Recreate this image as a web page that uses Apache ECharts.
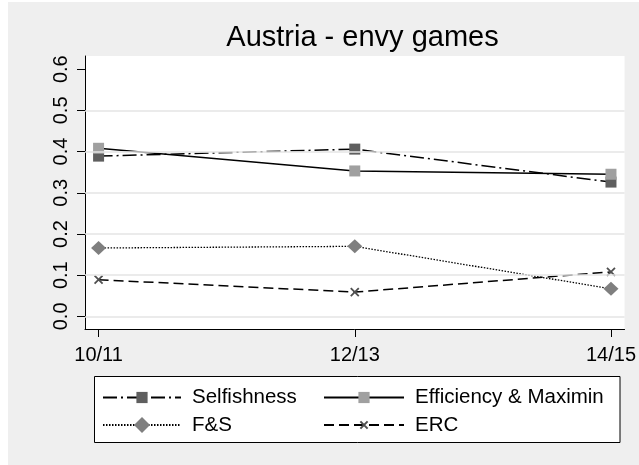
<!DOCTYPE html>
<html>
<head>
<meta charset="utf-8">
<script src="https://cdn.jsdelivr.net/npm/echarts@6/dist/echarts.min.js"></script>
<style>html,body{margin:0;padding:0;background:#fff}#c{width:639px;height:465px}</style>
</head>
<body>
<div id="c"></div>
<script>
const categories = ['10/11', '12/13', '14/15'];
const selfishness = [0.389, 0.406, 0.326];
const efficiency = [0.408, 0.353, 0.345];
const fs = [0.166, 0.170, 0.067];
const erc = [0.089, 0.059, 0.108];
const yTicks = [0, 0.1, 0.2, 0.3, 0.4, 0.5, 0.6];
const gridValues = [0, 0.1, 0.2, 0.3, 0.4, 0.5];
const xTicks = [0, 1, 2];

const FONT = 'Liberation Sans';
const toPts = arr => arr.map((v, i) => [i, v]);
const chart = echarts.init(document.getElementById('c'), null, {renderer: 'canvas'});

const lineSeries = (name, data, dash, width, symbol, size, color, extra) => Object.assign({
  name: name, type: 'line', data: toPts(data), z: 3,
  symbol: symbol, symbolSize: size, showSymbol: true,
  lineStyle: {color: '#000', width: width, type: dash},
  itemStyle: {color: color, borderWidth: 0},
  emphasis: {disabled: true}, animation: false
}, extra || {});

const legendItem = (name, left, top, itemWidth, itemHeight) => ({
  data: [name], orient: 'vertical', left: left, top: top, padding: 0,
  itemWidth: itemWidth, itemHeight: itemHeight,
  textStyle: {fontFamily: FONT, fontSize: 20.5, color: '#000', padding: [0, 0, 0, 6], lineHeight: 21},
  selectedMode: false
});

chart.setOption({
  backgroundColor: '#efefef',
  animation: false,
  graphic: [
    {type: 'rect', shape: {x: 0, y: 0, width: 8, height: 465}, style: {fill: '#fff'}, z: 0},
    {type: 'rect', shape: {x: 0, y: 0, width: 639, height: 2}, style: {fill: '#fff'}, z: 0},
    {type: 'rect', shape: {x: 94.5, y: 376.5, width: 525.5, height: 66}, style: {fill: '#fff', stroke: '#000', lineWidth: 1}, z: 1}
  ],
  title: {
    text: 'Austria - envy games', left: 357.5, top: 18, textAlign: 'center',
    textStyle: {fontFamily: FONT, fontSize: 29, fontWeight: 'normal', color: '#000'}
  },
  grid: {left: 85, right: 9, top: 56, bottom: 136, show: true, backgroundColor: '#fff', borderWidth: 0, containLabel: false},
  xAxis: {
    type: 'value', min: -0.053, max: 2.053,
    axisLine: {show: true, onZero: false, lineStyle: {color: '#000', width: 1}},
    axisTick: {show: true, customValues: xTicks, length: 8, inside: false, lineStyle: {color: '#000', width: 1}},
    axisLabel: {customValues: xTicks, formatter: v => categories[Math.round(v)], fontFamily: FONT, fontSize: 20, color: '#000', margin: 16},
    splitLine: {show: false}
  },
  yAxis: {
    type: 'value', min: -0.0306, max: 0.632,
    axisLine: {show: true, onZero: false, lineStyle: {color: '#000', width: 1}},
    axisTick: {show: true, customValues: yTicks, length: 8, inside: false, lineStyle: {color: '#000', width: 1}},
    axisLabel: {customValues: yTicks, formatter: v => v.toFixed(1), rotate: 90, fontFamily: FONT, fontSize: 20, color: '#000', margin: 14},
    splitLine: {show: false}
  },
  legend: [
    legendItem('Selfishness', 102, 387, 78, 14),
    legendItem('F&S', 102, 414.5, 78, 20),
    legendItem('Efficiency & Maximin', 323, 387, 80, 14),
    legendItem('ERC', 323, 414.5, 80, 9)
  ],
  series: [
    {
      name: 'grid', type: 'line', data: [], z: 1, silent: true,
      markLine: {
        silent: true, symbol: 'none', label: {show: false}, animation: false,
        lineStyle: {color: '#e4e4e4', width: 1.5, type: 'solid'},
        data: gridValues.map(v => ({yAxis: v}))
      }
    },
    lineSeries('Selfishness', selfishness, [14, 4, 2, 4], 1.5, 'rect', 11, '#5f5f5f'),
    lineSeries('Efficiency & Maximin', efficiency, 'solid', 1.5, 'rect', 11, '#a0a0a0'),
    lineSeries('F&S', fs, [1.5, 1.5], 1.3, 'diamond', [15, 14], '#7f7f7f'),
    lineSeries('ERC', erc, [10, 5], 1.5, 'path://M0 0L10 10M10 0L0 10', 8, '#505050',
      {itemStyle: {color: '#505050', borderColor: '#505050', borderWidth: 1.8}})
  ]
});
</script>
</body>
</html>
